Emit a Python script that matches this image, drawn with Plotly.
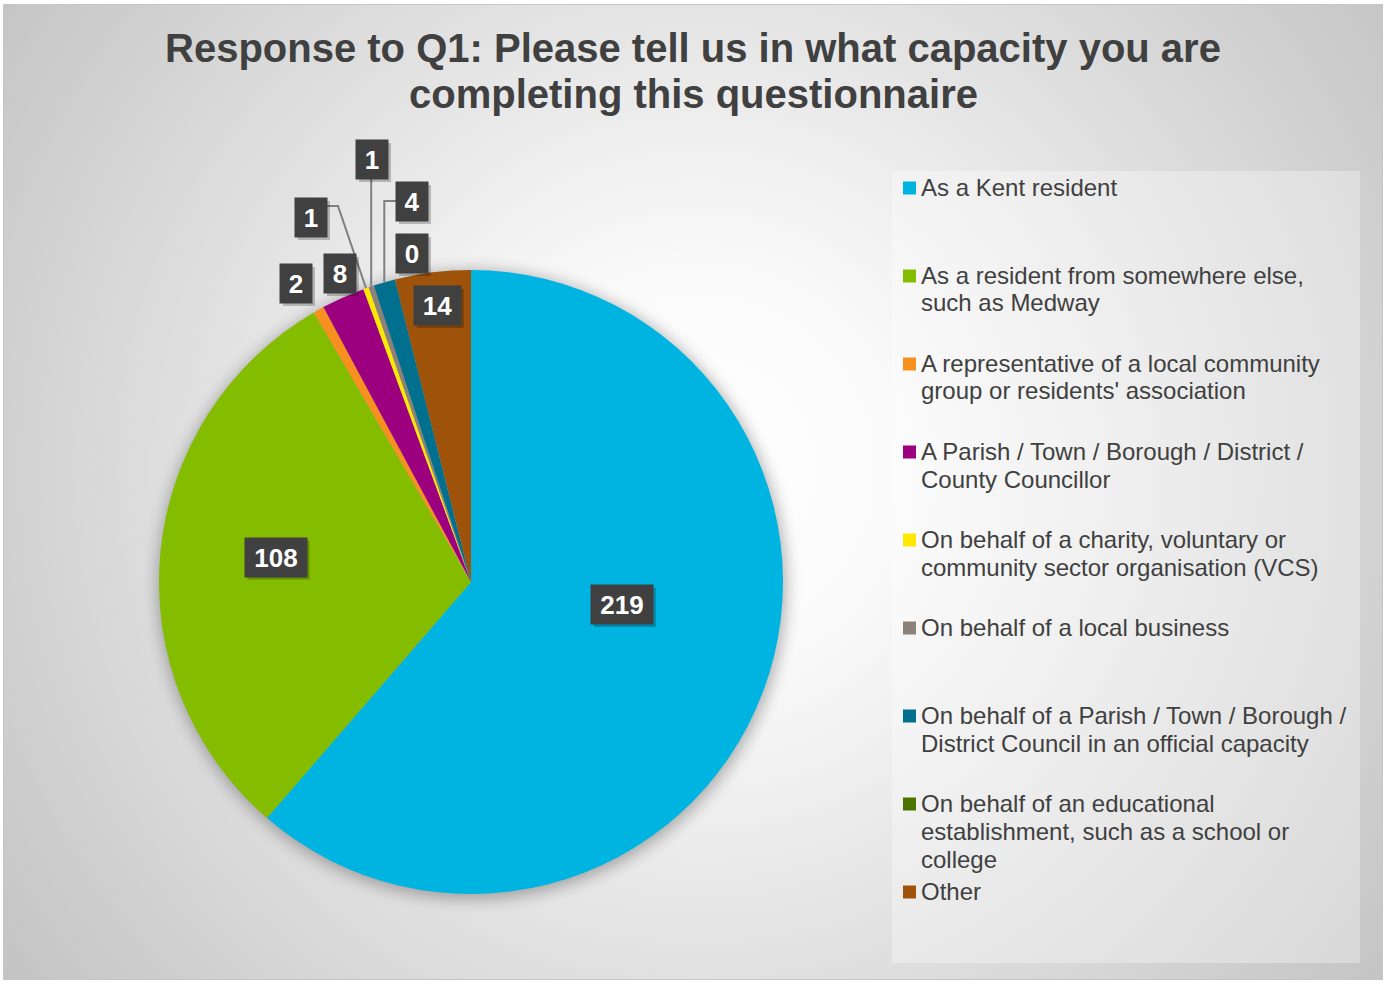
import base64
import math
import plotly.graph_objects as go

# ---- data ---------------------------------------------------------------
categories = [
    "As a Kent resident",
    "As a resident from somewhere else,<br>such as Medway",
    "A representative of a local community<br>group or residents' association",
    "A Parish / Town / Borough / District /<br>County Councillor",
    "On behalf of a charity, voluntary or<br>community sector organisation (VCS)",
    "On behalf of a local business",
    "On behalf of a Parish / Town / Borough /<br>District Council in an official capacity",
    "On behalf of an educational<br>establishment, such as a school or<br>college",
    "Other",
]
responses = [219, 108, 2, 8, 1, 1, 4, 0, 14]

title_lines = [
    "Response to Q1: Please tell us in what capacity you are",
    "completing this questionnaire",
]

# ---- styling / layout ---------------------------------------------------
slice_colors = ["#00B4E1", "#84BC00", "#F7901E", "#9C007E", "#FFE800",
                "#8C8279", "#00708E", "#4B7300", "#9E520A"]

W, H = 1386, 983
PIE_CX, PIE_CY, PIE_R = 471, 582, 312          # pixel geometry of the pie

# data-label box centres (pixels), one per category
label_centres = [(622, 604.5), (275.5, 557), (296, 283.5), (340, 273.5),
                 (311, 217.5), (372, 159.5), (412, 201.5), (412, 253.5),
                 (437.5, 305.5)]

TEXT_DARK = "#404040"
FONT = "Liberation Sans, Arial, sans-serif"


def fx(px):
    return px / W


def fy(py):
    return 1 - py / H


# background: framed radial gradient plus a soft shadow under the pie
svg = f"""<svg xmlns='http://www.w3.org/2000/svg' width='{W}' height='{H}' viewBox='0 0 {W} {H}' preserveAspectRatio='none'>
<defs>
<radialGradient id='g' gradientUnits='userSpaceOnUse' cx='700' cy='470' r='900'>
<stop offset='0' stop-color='#ffffff'/>
<stop offset='0.22' stop-color='#fafafa'/>
<stop offset='1' stop-color='#c0c0c0'/>
</radialGradient>
<filter id='b' x='-20%' y='-20%' width='140%' height='140%'><feGaussianBlur stdDeviation='8'/></filter>
</defs>
<rect width='{W}' height='{H}' fill='#ffffff'/>
<rect x='3.5' y='4.5' width='1379' height='975' fill='url(#g)' stroke='#c6c6c6' stroke-width='1'/>
<circle cx='{PIE_CX + 1}' cy='{PIE_CY + 3}' r='{PIE_R + 2}' fill='#000000' opacity='0.3' filter='url(#b)'/>
</svg>"""
bg_src = "data:image/svg+xml;base64," + base64.b64encode(svg.encode()).decode()

fig = go.Figure()

fig.add_trace(go.Pie(
    labels=[c.replace("<br>", " ") for c in categories],
    values=responses,
    sort=False,
    direction="clockwise",
    rotation=0,
    marker=dict(colors=slice_colors, line=dict(width=0)),
    textinfo="none",
    showlegend=False,
    domain=dict(x=[fx(PIE_CX - PIE_R), fx(PIE_CX + PIE_R)],
                y=[fy(PIE_CY + PIE_R), fy(PIE_CY - PIE_R)]),
    hovertemplate="%{label}: %{value}<extra></extra>",
))

annotations = []
shapes = []

# title, one annotation per line
for i, line in enumerate(title_lines):
    annotations.append(dict(
        x=fx(693), y=fy(47.5 + 47 * i), xref="paper", yref="paper",
        text=line, showarrow=False, xanchor="center", yanchor="middle",
        font=dict(family=FONT, size=40, color=TEXT_DARK, weight="bold"),
    ))

# edge point of every slice at its mid angle (clockwise from 12 o'clock)
total = sum(responses)
edge_pts = []
acc = 0
for v in responses:
    mid = (acc + v / 2) / total * 2 * math.pi
    edge_pts.append((PIE_CX + PIE_R * math.sin(mid), PIE_CY - PIE_R * math.cos(mid)))
    acc += v

# leader lines for the thinnest slices
LEADER = dict(color="#808080", width=2)
ex, ey = edge_pts[4]
shapes.append(dict(type="path", xref="paper", yref="paper", line=LEADER,
                   path=f"M {fx(327)},{fy(206)} L {fx(338)},{fy(206)} L {fx(ex)},{fy(ey)}"))
ex, ey = edge_pts[5]
shapes.append(dict(type="path", xref="paper", yref="paper", line=LEADER,
                   path=f"M {fx(ex)},{fy(179)} L {fx(ex)},{fy(ey)}"))
ex, ey = edge_pts[6]
shapes.append(dict(type="path", xref="paper", yref="paper", line=LEADER,
                   path=f"M {fx(396)},{fy(201)} L {fx(ex)},{fy(201)} L {fx(ex)},{fy(ey)}"))

# data labels: dark boxes with a drop shadow
BOX_H = 39
for v, (cx, cy) in zip(responses, label_centres):
    txt = str(v)
    w = 15 * len(txt) + 17
    shapes.append(dict(type="rect", xref="paper", yref="paper",
                       x0=fx(cx - w / 2 + 3), x1=fx(cx + w / 2 + 3),
                       y0=fy(cy + BOX_H / 2 + 3), y1=fy(cy - BOX_H / 2 + 3),
                       fillcolor="rgba(0,0,0,0.22)", line=dict(width=0)))
    annotations.append(dict(
        x=fx(cx), y=fy(cy), xref="paper", yref="paper", text=txt,
        showarrow=False, xanchor="center", yanchor="middle",
        width=w, height=BOX_H, borderpad=0, align="center", valign="middle",
        bgcolor="#404040",
        font=dict(family=FONT, size=26, color="#ffffff", weight="bold"),
    ))

# legend panel
shapes.append(dict(type="rect", xref="paper", yref="paper", layer="below",
                   x0=fx(892), x1=fx(1360), y0=fy(963), y1=fy(171),
                   fillcolor="rgba(255,255,255,0.32)", line=dict(width=0)))

for i, (cat, col) in enumerate(zip(categories, slice_colors)):
    y0 = 188 + 88 * i
    shapes.append(dict(type="rect", xref="paper", yref="paper",
                       x0=fx(903), x1=fx(916), y0=fy(y0 + 6.5), y1=fy(y0 - 6.5),
                       fillcolor=col, line=dict(width=0)))
    for k, line in enumerate(cat.split("<br>")):
        annotations.append(dict(
            x=fx(919), y=fy(y0 - 1 + 28 * k), xref="paper", yref="paper",
            text=line, showarrow=False, xanchor="left", yanchor="middle",
            font=dict(family=FONT, size=24, color=TEXT_DARK),
        ))

fig.update_layout(
    width=W, height=H,
    margin=dict(l=0, r=0, t=0, b=0),
    paper_bgcolor="#ffffff",
    plot_bgcolor="rgba(0,0,0,0)",
    images=[dict(source=bg_src, xref="paper", yref="paper", x=0, y=1,
                 sizex=1, sizey=1, xanchor="left", yanchor="top",
                 sizing="stretch", layer="below")],
    shapes=shapes,
    annotations=annotations,
)

fig.write_html("out.html")
